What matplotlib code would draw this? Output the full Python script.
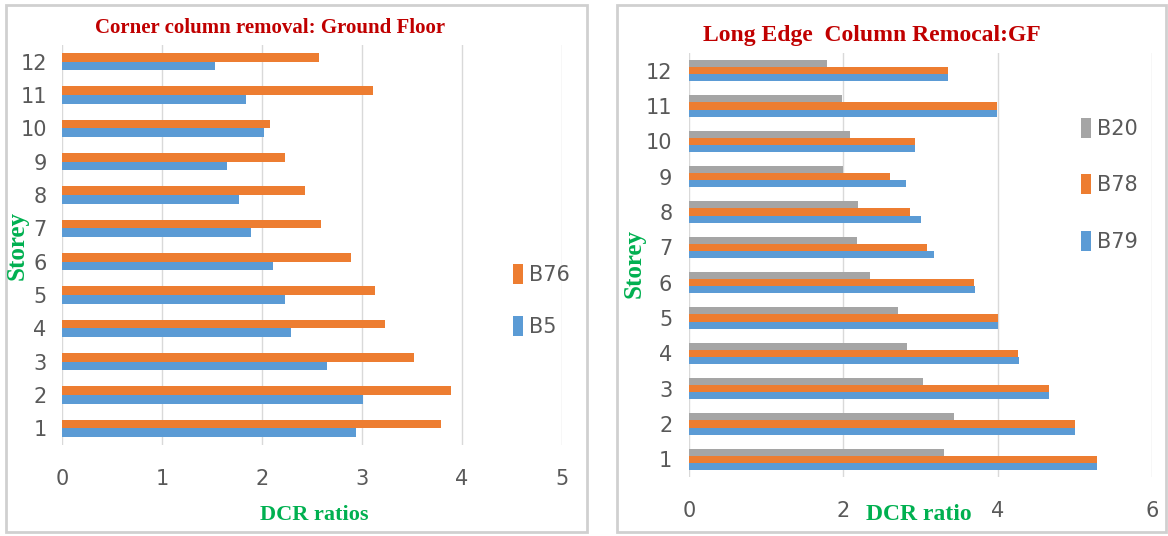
import matplotlib
matplotlib.use("Agg")
import matplotlib.pyplot as plt
from matplotlib.patches import Rectangle
import numpy as np

storeys = [str(i) for i in range(1, 13)]

# Left chart: Corner column removal
b76 = [3.79, 3.89, 3.52, 3.23, 3.13, 2.89, 2.59, 2.43, 2.23, 2.08, 3.11, 2.57]
b5 = [2.94, 3.01, 2.65, 2.29, 2.23, 2.11, 1.89, 1.77, 1.65, 2.02, 1.84, 1.53]

# Right chart: Long edge column removal
b20 = [3.31, 3.44, 3.03, 2.82, 2.71, 2.34, 2.18, 2.19, 2.00, 2.09, 1.98, 1.79]
b78 = [5.29, 5.00, 4.66, 4.26, 4.00, 3.69, 3.09, 2.86, 2.61, 2.93, 3.99, 3.35]
b79 = [5.29, 5.00, 4.66, 4.27, 4.00, 3.70, 3.18, 3.00, 2.81, 2.93, 3.99, 3.35]

BLUE = "#5B9BD5"
ORANGE = "#ED7D31"
GRAY = "#A5A5A5"
RED = "#C00000"
GREEN = "#00B050"
TICK = "#595959"
GRID = "#D9D9D9"

W, H = 1168, 536
fig = plt.figure(figsize=(W / 100, H / 100), dpi=100)
fig.patch.set_facecolor("white")

SANS = ["DejaVu Sans"]
serif = ["Liberation Serif", "DejaVu Serif"]
TS = 15

def px(x0, y0, x1, y1):
    return [x0 / W, 1 - y1 / H, (x1 - x0) / W, (y1 - y0) / H]

# panel borders
for (x0, y0, x1, y1) in [(6, 5, 587, 532), (617, 5, 1166, 532)]:
    fig.add_artist(Rectangle((x0 / W, 1 - y1 / H), (x1 - x0) / W, (y1 - y0) / H,
                             transform=fig.transFigure, fill=False,
                             edgecolor="#D0D0D0", linewidth=2))

def style(ax, xmax, step):
    ax.set_xlim(0, xmax)
    ax.set_ylim(-0.5, 11.5)
    ax.set_xticks(np.arange(0, xmax + 0.01, step))
    ax.set_yticks(np.arange(12))
    ax.set_yticklabels(storeys)
    for s in ax.spines.values():
        s.set_visible(False)
    ax.grid(axis="x", color=GRID, linewidth=1)
    ax.set_axisbelow(True)
    ax.tick_params(length=0)
    for lab in ax.get_xticklabels() + ax.get_yticklabels():
        lab.set_fontfamily(SANS)
        lab.set_fontsize(TS)
        lab.set_color(TICK)

# ---- Left
ax1 = fig.add_axes(px(62, 45, 562, 445))
y = np.arange(12)
h1 = 0.26
ax1.barh(y + h1 / 2, b76, height=h1, color=ORANGE, label="B76")
ax1.barh(y - h1 / 2, b5, height=h1, color=BLUE, label="B5")
style(ax1, 5, 1)
ax1.tick_params(axis="x", pad=17)
ax1.tick_params(axis="y", pad=11)
fig.text(270 / W, 1 - 28 / H, "Corner column removal: Ground Floor", ha="center", va="center",
         family=serif, weight="bold", size=15, color=RED)
fig.text(314 / W, 1 - 515 / H, "DCR ratios", ha="center", va="center",
         family=serif, weight="bold", size=16, color=GREEN)
fig.text(17 / W, 1 - 245 / H, "Storey", ha="center", va="center", rotation=90,
         family=serif, weight="bold", size=18, color=GREEN)
leg1 = ax1.legend(loc="upper left", bbox_to_anchor=(494 / W, 1 - 245 / H),
                  bbox_transform=fig.transFigure, frameon=False,
                  prop=dict(family=SANS, size=TS),
                  labelspacing=1.5, handlelength=0.5, handleheight=1.1, handletextpad=0.3)
for t in leg1.get_texts():
    t.set_color(TICK)

# ---- Right
ax2 = fig.add_axes(px(689, 53, 1152, 477))
h2 = 0.2
ax2.barh(y + h2, b20, height=h2, color=GRAY, label="B20")
ax2.barh(y, b78, height=h2, color=ORANGE, label="B78")
ax2.barh(y - h2, b79, height=h2, color=BLUE, label="B79")
style(ax2, 6, 2)
ax2.tick_params(axis="x", pad=17)
ax2.tick_params(axis="y", pad=12)
fig.text(872 / W, 1 - 35 / H, "Long Edge  Column Remocal:GF", ha="center", va="center",
         family=serif, weight="bold", size=17, color=RED)
fig.text(919 / W, 1 - 515 / H, "DCR ratio", ha="center", va="center",
         family=serif, weight="bold", size=17, color=GREEN)
fig.text(634 / W, 1 - 264 / H, "Storey", ha="center", va="center", rotation=90,
         family=serif, weight="bold", size=18, color=GREEN)
leg2 = ax2.legend(loc="upper left", bbox_to_anchor=(1062 / W, 1 - 99 / H),
                  bbox_transform=fig.transFigure, frameon=False,
                  prop=dict(family=SANS, size=TS),
                  labelspacing=1.7, handlelength=0.5, handleheight=1.1, handletextpad=0.3)
for t in leg2.get_texts():
    t.set_color(TICK)

fig.savefig("out.png", dpi=100)
